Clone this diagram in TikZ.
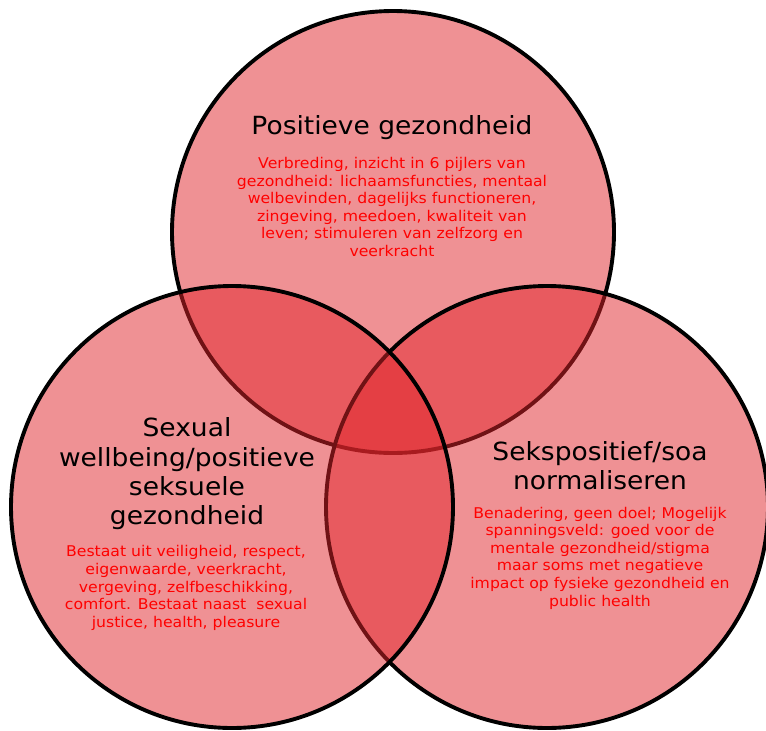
\documentclass[tikz,border=0pt]{standalone}
\usepackage{fontspec}
\setmainfont[FakeStretch=1.06]{DejaVu Sans}
\usepackage{xcolor}
\definecolor{vennred}{RGB}{224,36,42}
\tikzset{
    venn/.style={circle,draw=black,line width=3.9pt,fill=vennred,fill opacity=0.5,
        minimum size=442pt,inner sep=0pt},
    title/.style={align=center,text=black,font=\fontsize{25}{29.3}\selectfont},
    desc/.style={align=center,text=red,font=\fontsize{14.8}{17.6}\selectfont}
}

\begin{document}
\begin{tikzpicture}[x=1pt,y=-1pt]
        \useasboundingbox (0,0) rectangle (766,731);
        \node[venn] (pos) at (393,232) {};
        \node[venn] (soa) at (547,507) {};
        \node[venn] (sex) at (232,507) {};

        \node[title] (postitle) at (392,128) {Positieve gezondheid};
        \node[desc] (postext) at (392,207) {Verbreding, inzicht in 6 pijlers van\\
            gezondheid: lichaamsfuncties, mentaal\\
            welbevinden, dagelijks functioneren,\\
            zingeving, meedoen, kwaliteit van\\
            leven; stimuleren van zelfzorg en\\
            veerkracht};

        \node[title] (sextitle) at (187,474) {Sexual\\ wellbeing/positieve\\ seksuele\\ gezondheid};
        \node[desc] (sextext) at (186,588) {Bestaat uit veiligheid, respect,\\
            eigenwaarde, veerkracht,\\
            vergeving, zelfbeschikking,\\
            comfort. Bestaat naast\ \ sexual\\
            justice, health, pleasure};

        \node[title] (soatitle) at (600,466) {Sekspositief/soa\\ normaliseren};
        \node[desc] (soatext) at (600,558) {Benadering, geen doel; Mogelijk\\
            spanningsveld: goed voor de\\
            mentale gezondheid/stigma\\
            maar soms met negatieve\\
            impact op fysieke gezondheid en\\
            public health};
    \end{tikzpicture}
\end{document}
